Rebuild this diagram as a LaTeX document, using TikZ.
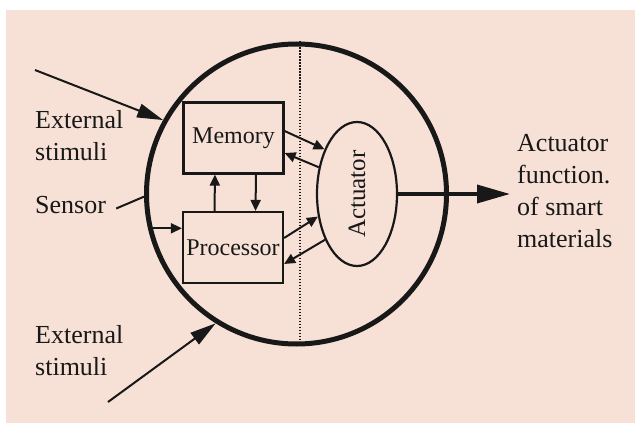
\documentclass[tikz,border=0pt]{standalone}
\usepackage{fontspec}
\setmainfont{Liberation Serif}
\usetikzlibrary{arrows.meta, shapes.geometric, calc}
\definecolor{peach}{RGB}{247,225,214}
\definecolor{ink}{RGB}{24,24,24}

\begin{document}
\begin{tikzpicture}[x=1pt, y=-1pt,
	every node/.style={font=\fontsize{26}{32}\selectfont, text=ink},
	box/.style={draw=ink, line width=2.2pt, minimum width=100pt, minimum height=71pt, inner sep=0pt, font=\fontsize{24}{28}\selectfont},
	lbl/.style={align=left, anchor=base west, inner sep=0pt},
	link/.style={draw=ink, line width=2pt, -{Triangle[length=11pt, width=10pt]}},
	stim/.style={draw=ink, line width=2pt, -{Triangle[length=26pt, width=14pt]}}]
		\useasboundingbox (0,0) rectangle (635,428);
		\fill[peach] (6,10) rectangle (635,423);
		% cell outline and divider
		\node[draw=ink, circle, line width=5pt, minimum size=300pt, inner sep=0pt] (cell) at (296.5,194) {};
		\draw[ink, line width=1.5pt, dash pattern=on 1.5pt off 1.5pt] ([xshift=3.5pt]cell.north) -- ([xshift=3.5pt]cell.south);
		\node[box] (mem) at (233.5,138) {Memory};
		\node[box] (proc) at (233,247.5) {Processor};
		\node[draw=ink, ellipse, line width=2.2pt, minimum width=80pt, minimum height=144pt, inner sep=0pt, font=\fontsize{25}{30}\selectfont] (act) at (357,194) {\rotatebox{90}{Actuator}};
		% labels (base = last line)
		\node[lbl] (ext1) at (35,160) {External\\stimuli};
		\node[lbl] (sens) at (35,213) {Sensor};
		\node[lbl] (ext2) at (35,375) {External\\stimuli};
		\node[lbl] (func) at (517,247) {Actuator\\function.\\of smart\\materials};
		\coordinate (in1) at (35,70);
		\coordinate (in2) at (108,402);
		\coordinate (out) at (510,194);
		% connectors
		\draw[stim] (in1) -- (cell.151);
		\draw[stim] (in2) -- (cell.238.5);
		\draw[ink, line width=2pt] ([xshift=10pt,yshift=-4pt]sens.east) -- (cell.181.5);
		\draw[link] (cell.193.5) -- (cell.193.5 -| proc.west);
		\draw[link] ([xshift=-18.5pt]proc.north) -- ([xshift=-18.5pt]mem.south);
		\draw[link] ([xshift=22.5pt]mem.south) -- ([xshift=22.5pt]proc.north);
		\draw[link] ([yshift=7pt]mem.east) -- (act.126);
		\draw[link] (act.145) -- ([yshift=-15pt]mem.east);
		\draw[link] ([yshift=9.5pt]proc.east) -- (act.210);
		\draw[link] (act.235) -- ([yshift=-16.5pt]proc.east);
		\draw[ink, line width=3.5pt, -{Triangle[length=33pt, width=18pt]}] (act.east) -- (out);
	\end{tikzpicture}
\end{document}
